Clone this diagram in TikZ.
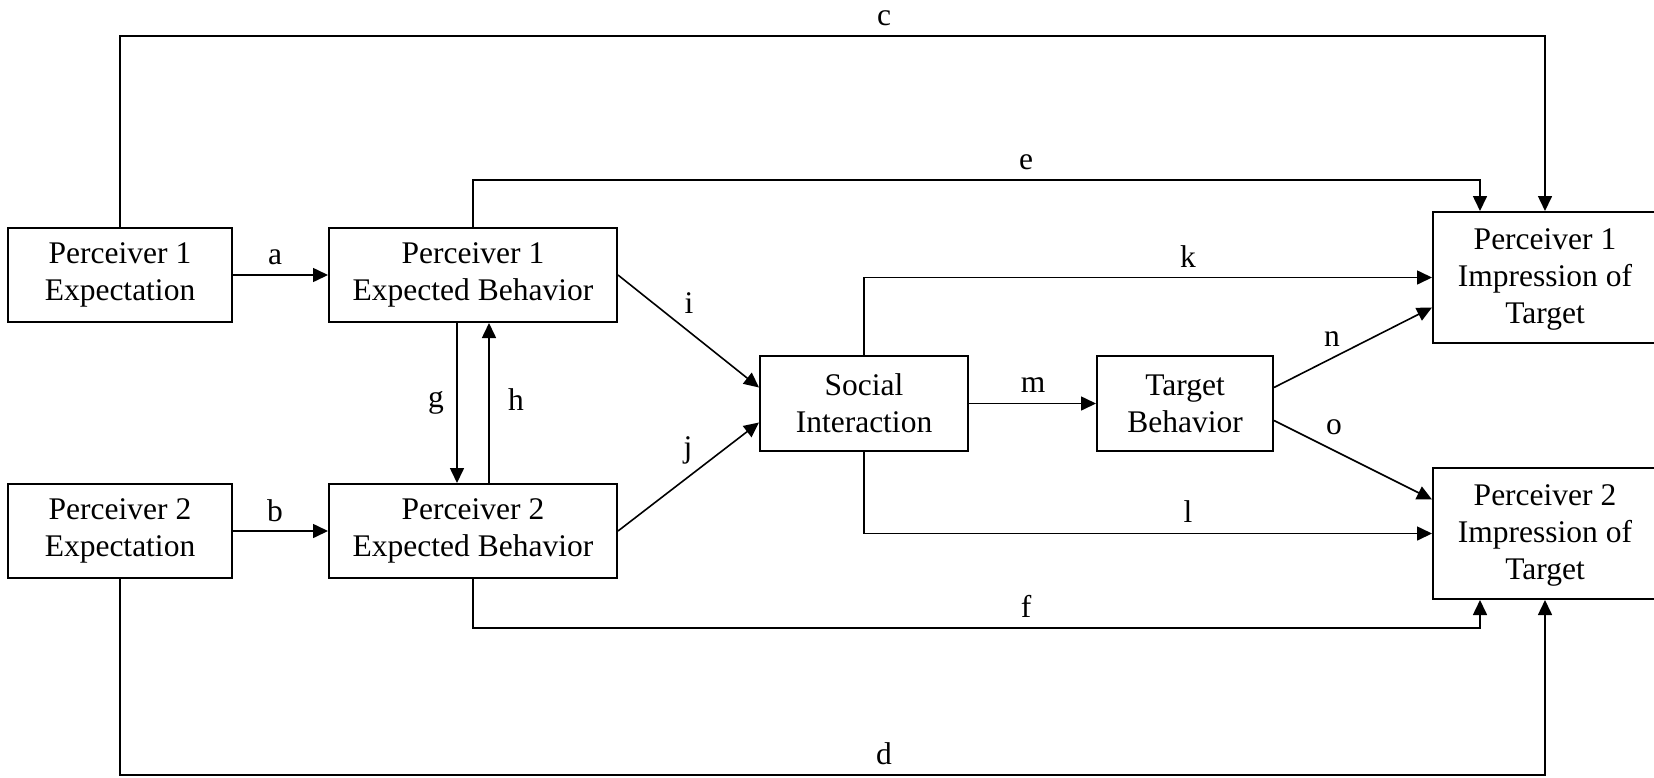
\documentclass[tikz,border=0pt]{standalone}
\usepackage{fontspec}
\setmainfont{Liberation Serif}
\usetikzlibrary{arrows.meta,calc}
\begin{document}
\begin{tikzpicture}[x=1pt,y=-1pt,
  every node/.style={font=\fontsize{31.5}{37}\selectfont},
  box/.style={draw,line width=2pt,inner sep=0pt,align=center,minimum height=94pt},
  conn/.style={line width=1.6pt},
  arr/.style={line width=1.6pt,-{Triangle[length=15pt,width=14pt]}},
  lab/.style={anchor=base,inner sep=0pt}]
\useasboundingbox (0,0) rectangle (1654,777);
\clip (0,0) rectangle (1654,777);
% boxes
\node[box,minimum width=224pt] (P1Exp) at (120,275) {Perceiver 1\\Expectation};
\node[box,minimum width=288pt] (P1EB) at (473,275) {Perceiver 1\\Expected Behavior};
\node[box,minimum width=224pt] (P2Exp) at (120,531) {Perceiver 2\\Expectation};
\node[box,minimum width=288pt] (P2EB) at (473,531) {Perceiver 2\\Expected Behavior};
\node[box,minimum width=208pt,minimum height=95pt] (SI) at (864,403.5) {Social\\Interaction};
\node[box,minimum width=176pt,minimum height=95pt] (TB) at (1185,403.5) {Target\\Behavior};
\node[box,minimum width=224pt,minimum height=131pt,text depth=2pt] (P1Imp) at (1545,277.5) {Perceiver 1\\Impression of\\Target};
\node[box,minimum width=224pt,minimum height=131pt,text depth=2pt] (P2Imp) at (1545,533.5) {Perceiver 2\\Impression of\\Target};
% helper coordinates
\coordinate (ctop) at (0,36);
\coordinate (etop) at (0,180);
\coordinate (fbot) at (0,628);
\coordinate (dbot) at (0,775);
\coordinate (eEnd) at ($(P1Imp.north west)+(48,0)$);
\coordinate (fEnd) at ($(P2Imp.south west)+(48,0)$);
% connectors
\draw[arr] (P1Exp.east) -- (P1EB.west);
\draw[arr] (P2Exp.east) -- (P2EB.west);
\draw[arr] (P1Exp.north) -- (P1Exp.north |- ctop) -| (P1Imp.north);
\draw[arr] (P1EB.north) -- (P1EB.north |- etop) -| (eEnd);
\draw[arr] (P2EB.south) -- (P2EB.south |- fbot) -| (fEnd);
\draw[arr] (P2Exp.south) -- (P2Exp.south |- dbot) -| (P2Imp.south);
\draw[arr] (SI.north) |- (P1Imp.west);
\draw[arr] (SI.south) |- (P2Imp.west);
\draw[arr] ($(P1EB.south)+(-16,0)$) -- ($(P2EB.north)+(-16,0)$);
\draw[arr] ($(P2EB.north)+(16,0)$) -- ($(P1EB.south)+(16,0)$);
\draw[arr] (P1EB.east) -- ($(SI.west)+(0,-16)$);
\draw[arr] (P2EB.east) -- ($(SI.west)+(0,19)$);
\draw[arr] (SI.east) -- (TB.west);
\draw[arr] ($(TB.east)+(0,-16)$) -- ($(P1Imp.west)+(0,30)$);
\draw[arr] ($(TB.east)+(0,17)$) -- ($(P2Imp.west)+(0,-34)$);
% labels
\node[lab] (la) at (275,264) {a};
\node[lab] (lb) at (275,521) {b};
\node[lab] (lc) at (884,25) {c};
\node[lab] (ld) at (884,764) {d};
\node[lab] (le) at (1026,169) {e};
\node[lab] (lf) at (1026,617) {f};
\node[lab] (lg) at (436,407) {g};
\node[lab] (lh) at (516,410) {h};
\node[lab] (li) at (689,313) {i};
\node[lab] (lj) at (688,457) {j};
\node[lab] (lk) at (1188,267) {k};
\node[lab] (ll) at (1188,522) {l};
\node[lab] (lm) at (1033,392) {m};
\node[lab] (ln) at (1332,346) {n};
\node[lab] (lo) at (1334,434) {o};
\end{tikzpicture}
\end{document}
